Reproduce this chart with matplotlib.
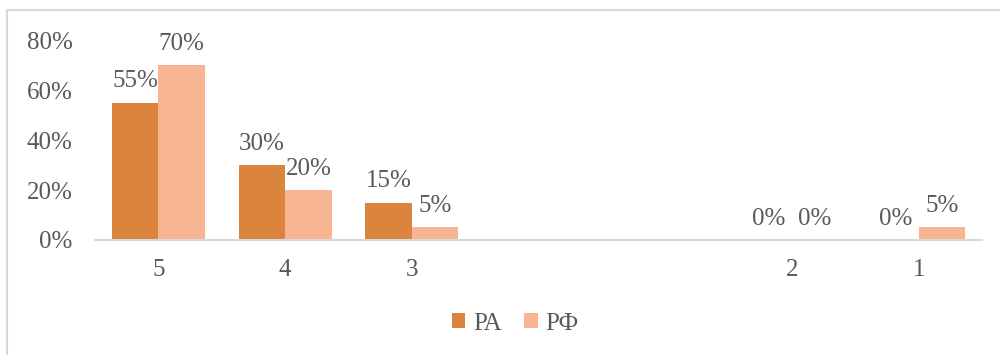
import matplotlib.pyplot as plt
from matplotlib.patches import Rectangle
import numpy as np

categories = ['5', '4', '3', '', '', '2', '1']
ra_values = [0.55, 0.30, 0.15, None, None, 0.0, 0.0]
rf_values = [0.70, 0.20, 0.05, None, None, 0.0, 0.05]
series_names = ['РА', 'РФ']
yticks = [0, 0.2, 0.4, 0.6, 0.8]

ra_color = '#DA843E'
rf_color = '#F7B591'
text_color = '#595959'

plt.rcParams['font.family'] = ['Liberation Serif', 'DejaVu Serif']

fig = plt.figure(figsize=(10, 3.55), dpi=100)
ax = fig.add_axes([0.095, 0.324, 0.887, 0.563])

x = np.arange(len(categories))
w = 0.367

for vals, off, color, name in [(ra_values, -w / 2, ra_color, series_names[0]),
                               (rf_values, w / 2, rf_color, series_names[1])]:
    idx = [i for i, v in enumerate(vals) if v is not None]
    heights = [vals[i] for i in idx]
    bars = ax.bar(x[idx] + off, heights, width=w, color=color, label=name)
    for b, v in zip(bars, heights):
        ax.annotate(f'{v:.0%}', (b.get_x() + b.get_width() / 2, v),
                    xytext=(0, 11), textcoords='offset points',
                    ha='center', va='baseline', fontsize=18, color=text_color)

ax.set_xlim(-0.5, len(categories) - 0.5)
ax.set_ylim(0, 0.8)
ax.set_xticks(x)
ax.set_xticklabels(categories)
ax.set_yticks(yticks)
ax.set_yticklabels([f'{t:.0%}' for t in yticks])
ax.tick_params(axis='both', length=0, labelsize=18, labelcolor=text_color)
ax.tick_params(axis='x', pad=14)
ax.tick_params(axis='y', pad=16)
for s in ['top', 'right', 'left']:
    ax.spines[s].set_visible(False)
ax.spines['bottom'].set_color('#D9D9D9')
ax.spines['bottom'].set_linewidth(1.5)

fig.legend(loc='center', bbox_to_anchor=(0.515, 0.088), ncol=2, frameon=False,
           fontsize=18, labelcolor=text_color, handlelength=0.55, handleheight=0.55,
           handletextpad=0.3, columnspacing=0.9)

# outer chart frame
fig.patches.append(Rectangle((0.007, -0.1), 1.1, 1.072, transform=fig.transFigure,
                             fill=False, edgecolor='#D9D9D9', linewidth=1.5))

fig.savefig('out.png', dpi=100)
